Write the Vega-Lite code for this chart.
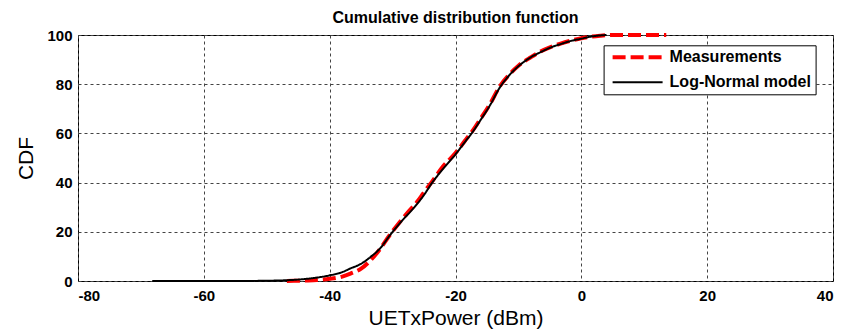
{
  "$schema": "https://vega.github.io/schema/vega-lite/v6.json",
  "width": 755,
  "height": 246,
  "autosize": {"type": "none"},
  "padding": {"left": 78, "top": 35, "right": 13, "bottom": 48},
  "background": "white",
  "title": {
    "text": "Cumulative distribution function",
    "font": "Liberation Sans",
    "fontSize": 16,
    "fontWeight": "bold",
    "color": "black",
    "offset": 1
  },
  "config": {
    "view": {"stroke": "black", "strokeWidth": 1},
    "axis": {
      "domain": false,
      "ticks": false,
      "grid": true,
      "gridColor": "#444",
      "gridDash": [3, 3],
      "gridWidth": 1,
      "gridOpacity": 1,
      "labelFont": "Liberation Sans",
      "labelFontSize": 15,
      "labelFontWeight": "bold",
      "labelColor": "black",
      "labelExpr": "toString(datum.value)",
      "titleFont": "Liberation Sans",
      "titleFontSize": 21,
      "titleFontWeight": "normal",
      "titleColor": "black"
    }
  },
  "data": {
    "values": [
      {"series": "Log-Normal model", "x": -68.2, "cdf": 0},
      {"series": "Log-Normal model", "x": -55, "cdf": 0},
      {"series": "Log-Normal model", "x": -50, "cdf": 0.1},
      {"series": "Log-Normal model", "x": -47, "cdf": 0.3},
      {"series": "Log-Normal model", "x": -44, "cdf": 0.8},
      {"series": "Log-Normal model", "x": -42, "cdf": 1.4},
      {"series": "Log-Normal model", "x": -40, "cdf": 2.3},
      {"series": "Log-Normal model", "x": -38, "cdf": 3.6},
      {"series": "Log-Normal model", "x": -36.7, "cdf": 5.1},
      {"series": "Log-Normal model", "x": -35, "cdf": 7},
      {"series": "Log-Normal model", "x": -33.5, "cdf": 9.8},
      {"series": "Log-Normal model", "x": -32, "cdf": 13.2},
      {"series": "Log-Normal model", "x": -30.3, "cdf": 19},
      {"series": "Log-Normal model", "x": -28.5, "cdf": 24.5},
      {"series": "Log-Normal model", "x": -26.6, "cdf": 29.8},
      {"series": "Log-Normal model", "x": -25, "cdf": 35},
      {"series": "Log-Normal model", "x": -23.7, "cdf": 40},
      {"series": "Log-Normal model", "x": -22, "cdf": 45.5},
      {"series": "Log-Normal model", "x": -20, "cdf": 51.5},
      {"series": "Log-Normal model", "x": -18.5, "cdf": 56.5},
      {"series": "Log-Normal model", "x": -17.3, "cdf": 60.5},
      {"series": "Log-Normal model", "x": -16, "cdf": 65.5},
      {"series": "Log-Normal model", "x": -14.5, "cdf": 71.5},
      {"series": "Log-Normal model", "x": -13, "cdf": 78.5},
      {"series": "Log-Normal model", "x": -11.5, "cdf": 83.5},
      {"series": "Log-Normal model", "x": -10, "cdf": 87.3},
      {"series": "Log-Normal model", "x": -8, "cdf": 91},
      {"series": "Log-Normal model", "x": -6.5, "cdf": 93},
      {"series": "Log-Normal model", "x": -5, "cdf": 94.8},
      {"series": "Log-Normal model", "x": -3.3, "cdf": 96.3},
      {"series": "Log-Normal model", "x": -1.5, "cdf": 97.7},
      {"series": "Log-Normal model", "x": 0, "cdf": 98.5},
      {"series": "Log-Normal model", "x": 1, "cdf": 99.1},
      {"series": "Log-Normal model", "x": 2.5, "cdf": 99.7},
      {"series": "Log-Normal model", "x": 4, "cdf": 100},
      {"series": "Measurements", "x": -46.8, "cdf": 0},
      {"series": "Measurements", "x": -44, "cdf": 0.2},
      {"series": "Measurements", "x": -42, "cdf": 0.4},
      {"series": "Measurements", "x": -40, "cdf": 0.9},
      {"series": "Measurements", "x": -38, "cdf": 1.8},
      {"series": "Measurements", "x": -36.7, "cdf": 3},
      {"series": "Measurements", "x": -35, "cdf": 5},
      {"series": "Measurements", "x": -33.5, "cdf": 8.4},
      {"series": "Measurements", "x": -32, "cdf": 13},
      {"series": "Measurements", "x": -30.5, "cdf": 18.5},
      {"series": "Measurements", "x": -29, "cdf": 23.5},
      {"series": "Measurements", "x": -27.7, "cdf": 27.5},
      {"series": "Measurements", "x": -26, "cdf": 32.5},
      {"series": "Measurements", "x": -25.1, "cdf": 35.7},
      {"series": "Measurements", "x": -23.7, "cdf": 40.5},
      {"series": "Measurements", "x": -22, "cdf": 46.5},
      {"series": "Measurements", "x": -20, "cdf": 52},
      {"series": "Measurements", "x": -18.5, "cdf": 57},
      {"series": "Measurements", "x": -17.3, "cdf": 61},
      {"series": "Measurements", "x": -16, "cdf": 66},
      {"series": "Measurements", "x": -14.5, "cdf": 72},
      {"series": "Measurements", "x": -13, "cdf": 79},
      {"series": "Measurements", "x": -11.5, "cdf": 83.8},
      {"series": "Measurements", "x": -10, "cdf": 87.5},
      {"series": "Measurements", "x": -8, "cdf": 91},
      {"series": "Measurements", "x": -6.5, "cdf": 93.3},
      {"series": "Measurements", "x": -5, "cdf": 95},
      {"series": "Measurements", "x": -3.3, "cdf": 96.5},
      {"series": "Measurements", "x": -1.5, "cdf": 97.8},
      {"series": "Measurements", "x": 0, "cdf": 98.7},
      {"series": "Measurements", "x": 1.5, "cdf": 99.3},
      {"series": "Measurements", "x": 3, "cdf": 99.7},
      {"series": "Measurements", "x": 5, "cdf": 100},
      {"series": "Measurements", "x": 13.5, "cdf": 100}
    ]
  },
  "encoding": {
    "x": {
      "field": "x",
      "type": "quantitative",
      "title": "UETxPower (dBm)",
      "scale": {"domain": [-80, 40], "nice": false, "zero": false},
      "axis": {"values": [-80, -60, -40, -20, 0, 20, 40], "labelPadding": 7, "titlePadding": 4}
    },
    "y": {
      "field": "cdf",
      "type": "quantitative",
      "title": "CDF",
      "scale": {"domain": [0, 100], "nice": false},
      "axis": {"values": [0, 20, 40, 60, 80, 100], "labelPadding": 6, "titlePadding": 10}
    },
    "color": {
      "field": "series",
      "type": "nominal",
      "scale": {"domain": ["Measurements", "Log-Normal model"], "range": ["#ff0000", "#000000"]},
      "legend": {
        "orient": "none",
        "legendX": 525.6,
        "legendY": 10.3,
        "title": null,
        "strokeColor": "black",
        "fillColor": "white",
        "padding": 4,
        "cornerRadius": 0,
        "symbolType": "stroke",
        "symbolSize": 2500,
        "symbolOffset": 3,
        "clipHeight": 16,
        "rowPadding": 9,
        "labelFont": "Liberation Sans",
        "labelFontSize": 16,
        "labelFontWeight": "bold",
        "labelColor": "black",
        "labelOffset": 5
      }
    },
    "strokeDash": {
      "field": "series",
      "type": "nominal",
      "scale": {"domain": ["Measurements", "Log-Normal model"], "range": [[13, 5], [1, 0]]}
    },
    "strokeWidth": {
      "field": "series",
      "type": "nominal",
      "scale": {"domain": ["Measurements", "Log-Normal model"], "range": [4, 2]}
    }
  },
  "layer": [
    {
      "transform": [{"filter": "datum.series === 'Measurements'"}],
      "mark": {"type": "line", "interpolate": "monotone"}
    },
    {
      "transform": [{"filter": "datum.series === 'Log-Normal model'"}],
      "mark": {"type": "line", "interpolate": "monotone"}
    }
  ]
}
